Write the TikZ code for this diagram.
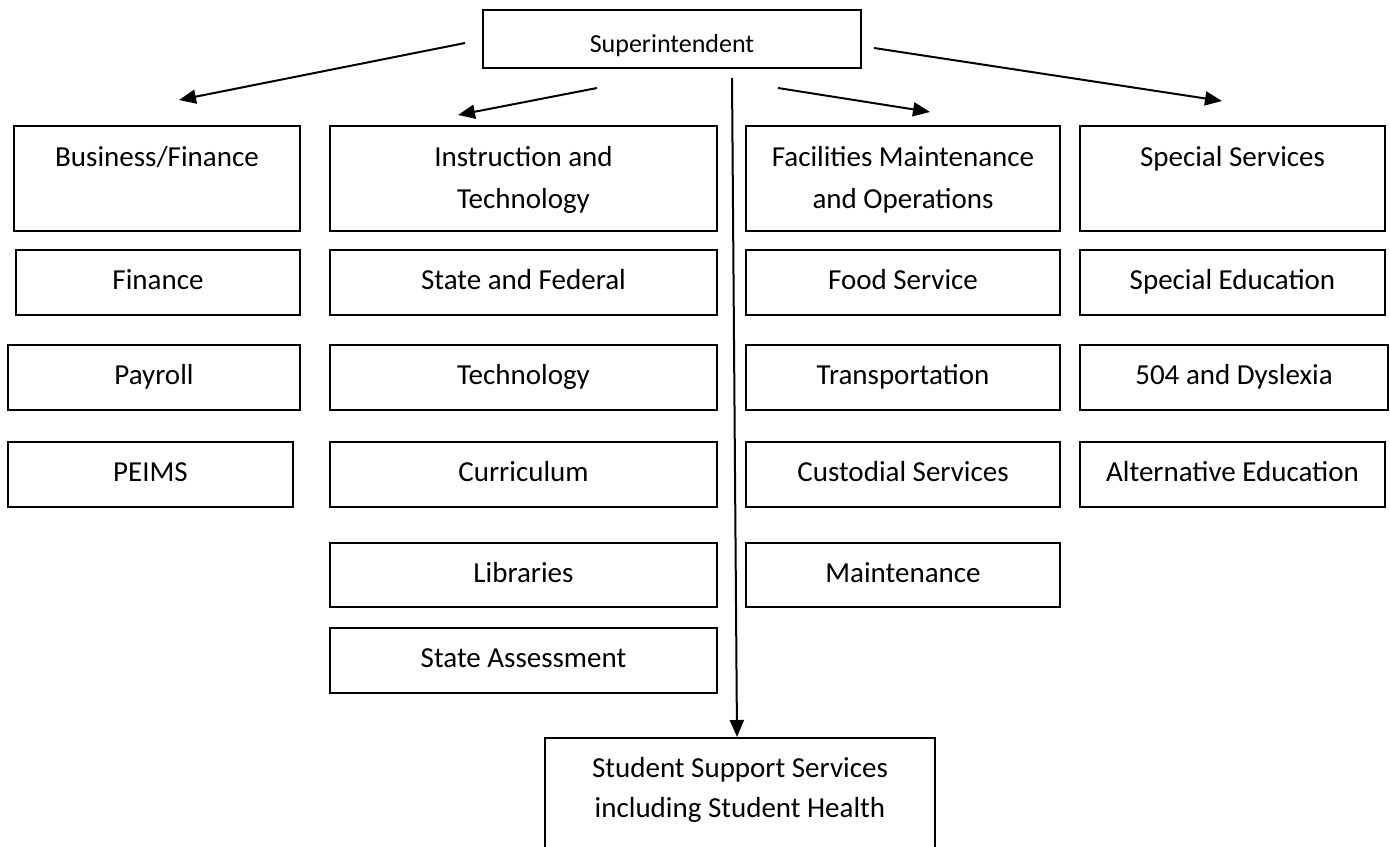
\documentclass[tikz,border=0pt]{standalone}
\usepackage{fontspec}
\setmainfont{Carlito}
\usetikzlibrary{arrows.meta,calc}
\tikzset{
  box/.style={ % plain unit box, text centred
    draw, rectangle, line width=0.8pt, inner sep=0pt,
    align=center, minimum height=32.5pt,
    text height=10.5pt, text depth=3.5pt,
    font=\fontsize{14.5}{17}\selectfont
  },
  headbox/.style={ % department box, one line at the top
    draw, rectangle, line width=0.8pt, inner sep=0pt,
    anchor=north, align=center,
    text height=20.5pt, text depth=32pt,
    font=\fontsize{14.5}{21}\selectfont
  },
  headboxii/.style={ % department box, two lines at the top
    headbox, text height=41.5pt, text depth=11pt
  },
  studbox/.style={
    draw, rectangle, line width=0.8pt, inner sep=0pt,
    anchor=north, align=center,
    text height=40pt, text depth=40pt,
    font=\fontsize{14.5}{20}\selectfont
  },
  link/.style={
    line width=1pt, -{Triangle[length=8.5pt,width=7pt]}
  }
}
\begin{document}
\begin{tikzpicture}[x=0.5pt,y=-0.5pt]
  \useasboundingbox (0,0) rectangle (1390,846);
  \clip (0,0) rectangle (1390,846);

  \node[box, font=\fontsize{13}{15}\selectfont, minimum width=189pt, minimum height=29pt,
    text height=21pt, text depth=8pt] (sup) at (672,39) {Superintendent};

  % department heads
  \node[headbox, minimum width=143pt] (bus) at (157,125) {Business/Finance};
  \node[headboxii, minimum width=193.5pt] (ins) at (523.5,125) {Instruction and\\Technology};
  \node[headboxii, minimum width=157pt] (fac) at (903,125) {Facilities Maintenance\\and Operations};
  \node[headbox, minimum width=152.5pt] (spe) at (1232.5,125) {Special Services};

  % business/finance
  \node[box, minimum width=142pt] (fin) at (158,282.5) {Finance};
  \node[box, minimum width=146pt] (pay) at (154,377.5) {Payroll};
  \node[box, minimum width=142.5pt] (pei) at (150.5,474.5) {PEIMS};

  % instruction and technology
  \node[box, minimum width=193.5pt] (sfed) at (523.5,282.5) {State and Federal};
  \node[box, minimum width=193.5pt] (tech) at (523.5,377.5) {Technology};
  \node[box, minimum width=193.5pt] (cur) at (523.5,474.5) {Curriculum};
  \node[box, minimum width=193.5pt, minimum height=32pt] (lib) at (523.5,575) {Libraries};
  \node[box, minimum width=193.5pt] (sas) at (523.5,660.5) {State Assessment};

  % facilities
  \node[box, minimum width=157pt] (food) at (903,282.5) {Food Service};
  \node[box, minimum width=157pt] (trans) at (903,377.5) {Transportation};
  \node[box, minimum width=157pt] (cust) at (903,474.5) {Custodial Services};
  \node[box, minimum width=157pt, minimum height=32pt] (mnt) at (903,575) {Maintenance};

  % special services
  \node[box, minimum width=152.5pt] (sped) at (1232.5,282.5) {Special Education};
  \node[box, minimum width=154pt] (dys) at (1234,377.5) {504 and Dyslexia};
  \node[box, minimum width=152.5pt] (alt) at (1232.5,474.5) {Alternative Education};

  \node[studbox, minimum width=195pt] (stu) at (740,737) {Student Support Services\\including Student Health};

  % free ends of the arrows
  \coordinate (bus0) at (465,43);
  \coordinate (bus1) at (179,100);
  \coordinate (ins0) at (597,88);
  \coordinate (ins1) at (458,115);
  \coordinate (stu0) at (732,78);
  \coordinate (fac0) at (778,88);
  \coordinate (fac1) at (930,112);
  \coordinate (spe0) at (874,48);
  \coordinate (spe1) at (1222,101);

  \draw[link] (bus0) -- (bus1);
  \draw[link] (ins0) -- (ins1);
  \draw[link] (stu0) -- ($(stu.north)+(-3,0)$);
  \draw[link] (fac0) -- (fac1);
  \draw[link] (spe0) -- (spe1);
\end{tikzpicture}
\end{document}
